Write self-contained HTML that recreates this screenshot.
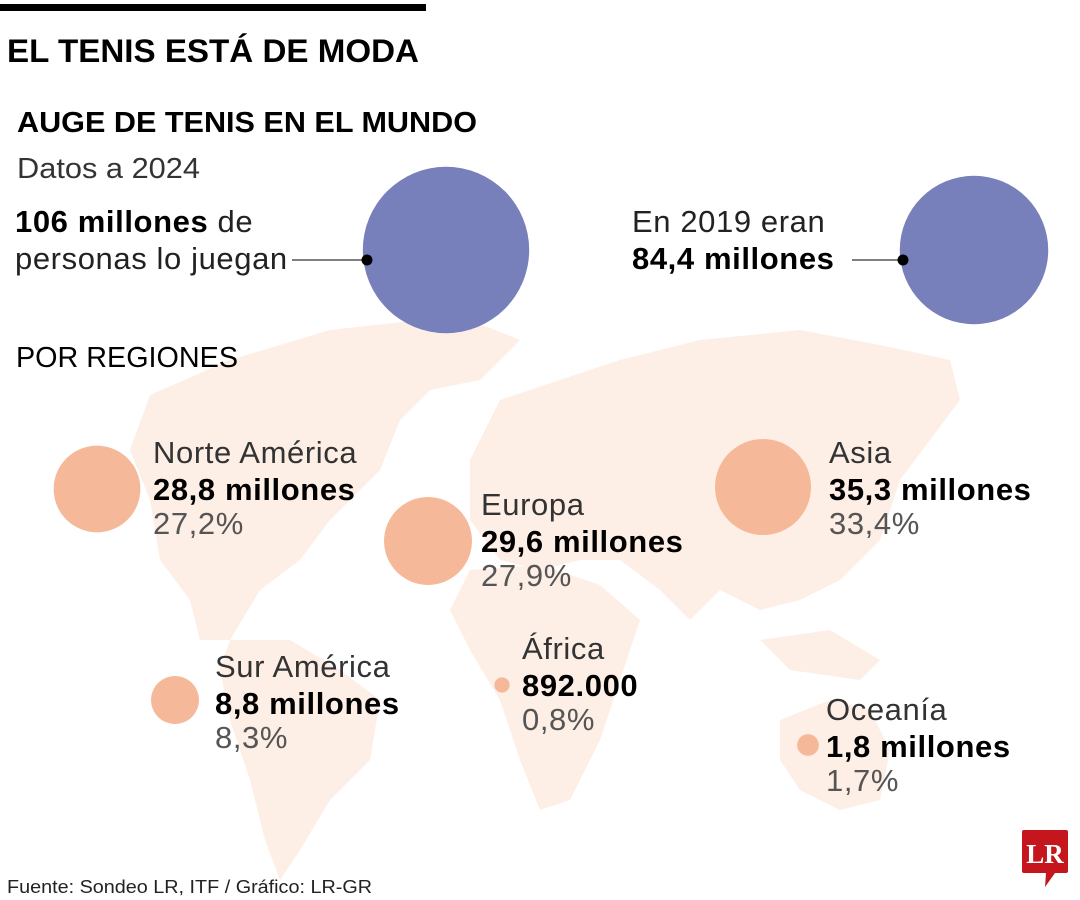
<!DOCTYPE html>
<html><head><meta charset="utf-8">
<style>
html,body{margin:0;padding:0;background:#fff;}
svg{display:block;font-family:"Liberation Sans",sans-serif;}
</style></head>
<body>
<svg id="chart" width="1080" height="900" viewBox="0 0 1080 900" xmlns="http://www.w3.org/2000/svg">
<g id="map" fill="#fdeee6">
<path d="M150,395 L230,360 L330,330 L420,320 L470,340 L440,380 L400,420 L380,470 L330,520 L300,560 L260,590 L230,640 L200,640 L190,600 L160,560 L150,500 L130,450 Z"/>
<path d="M400,330 L470,320 L520,340 L480,380 L430,390 Z"/>
<path d="M230,640 L290,640 L340,670 L380,700 L370,760 L330,800 L300,850 L280,880 L265,840 L250,780 L230,720 L220,670 Z"/>
<path d="M470,460 L500,400 L560,380 L620,360 L700,340 L800,330 L880,345 L950,360 L960,400 L930,440 L900,480 L880,540 L840,580 L800,600 L760,610 L720,590 L690,620 L660,590 L620,560 L580,560 L540,570 L500,560 L470,520 Z"/>
<path d="M470,570 L540,565 L600,585 L640,620 L620,680 L600,740 L570,800 L540,810 L520,760 L500,700 L470,650 L450,610 Z"/>
<path d="M780,720 L830,700 L870,710 L890,750 L880,800 L840,810 L800,790 L780,760 Z"/>
<path d="M760,640 L830,630 L880,660 L860,680 L790,670 Z"/>
</g>
<rect x="0" y="4" width="426" height="7" fill="#000"/>
<text x="7" y="62" font-size="32" font-weight="bold" textLength="412" lengthAdjust="spacingAndGlyphs">EL TENIS ESTÁ DE MODA</text>
<text x="17" y="132" font-size="29" font-weight="bold" textLength="460" lengthAdjust="spacingAndGlyphs">AUGE DE TENIS EN EL MUNDO</text>
<text x="17" y="178" font-size="29" fill="#333" textLength="183" lengthAdjust="spacingAndGlyphs">Datos a 2024</text>
<text font-size="31" letter-spacing="0.6">
<tspan x="15" y="232" font-weight="bold">106 millones</tspan><tspan fill="#222"> de</tspan>
<tspan x="15" y="269" fill="#222">personas lo juegan</tspan></text>
<text font-size="31" letter-spacing="0.6">
<tspan x="632" y="232" fill="#222">En 2019 eran</tspan>
<tspan x="632" y="269" font-weight="bold">84,4 millones</tspan></text>
<text x="16" y="367" font-size="29" textLength="222" lengthAdjust="spacingAndGlyphs">POR REGIONES</text>
<g id="totals"></g>
<g id="regions"></g>
<g>
<path d="M1024,830 H1066 Q1068,830 1068,832 V871 Q1068,873 1066,873 H1055 L1045,887 L1046,873 H1024 Q1022,873 1022,871 V832 Q1022,830 1024,830 Z" fill="#c4161c"/>
<text x="1045" y="863" font-family="Liberation Serif,serif" font-weight="bold" font-size="27" fill="#fff" text-anchor="middle">LR</text>
</g>
<text x="7" y="893" font-size="18" fill="#222" textLength="365" lengthAdjust="spacingAndGlyphs">Fuente: Sondeo LR, ITF / Gráfico: LR-GR</text>
</svg>
<script>
const totalsLabels = ["2024", "2019"];
const totals = [106, 84.4];
const regionNames = ["Norte América", "Europa", "Asia", "Sur América", "África", "Oceanía"];
const values = [28.8, 29.6, 35.3, 8.8, 0.892, 1.8];
const valueLabels = ["28,8 millones", "29,6 millones", "35,3 millones", "8,8 millones", "892.000", "1,8 millones"];
const shareLabels = ["27,2%", "27,9%", "33,4%", "8,3%", "0,8%", "1,7%"];

const NS = "http://www.w3.org/2000/svg";
const k = 8.08;
function rScale(v){ return Math.sqrt(v) * k; }
function mk(tag, attrs, parent){ const e = document.createElementNS(NS, tag); for (const a in attrs) e.setAttribute(a, attrs[a]); parent.appendChild(e); return e; }

const totalCenters = [[446,250],[974,250]];
const totalLine = [[292,367],[852,903]];
const tg = document.getElementById('totals');
totals.forEach((v,i)=>{
  const [cx,cy] = totalCenters[i];
  const c = mk('circle',{cx:cx,cy:cy,r:rScale(v),fill:'#7880bb'},tg);
  
  
  const l = mk('line',{x1:totalLine[i][0],y1:260,x2:totalLine[i][1],y2:260,stroke:'#000','stroke-width':1},tg);
  
  
  const d = mk('circle',{cx:totalLine[i][1],cy:260,r:5.5,fill:'#000'},tg);
  
  
});

const centers = [[97,489],[428,541],[763,487],[175,700],[502,685],[808,745]];
const textPos = [[153,463],[481,515],[829,463],[215,677],[522,659],[826,720]];
const rg = document.getElementById('regions');
values.forEach((v,i)=>{
  const [cx,cy] = centers[i];
  const c = mk('circle',{cx:cx,cy:cy,r:rScale(v),fill:'#f5b99a'},rg);
  
  
  const [tx,ty] = textPos[i];
  const t = mk('text',{x:tx,y:ty,'font-size':31,'letter-spacing':0.6},rg);
  
  
  const s1 = mk('tspan',{x:tx,y:ty,fill:'#333'},t); s1.textContent = regionNames[i];
  const s2 = mk('tspan',{x:tx,y:ty+37,'font-weight':'bold',fill:'#000'},t); s2.textContent = valueLabels[i];
  const s3 = mk('tspan',{x:tx,y:ty+71,fill:'#555'},t); s3.textContent = shareLabels[i];
});
</script>
</body></html>
